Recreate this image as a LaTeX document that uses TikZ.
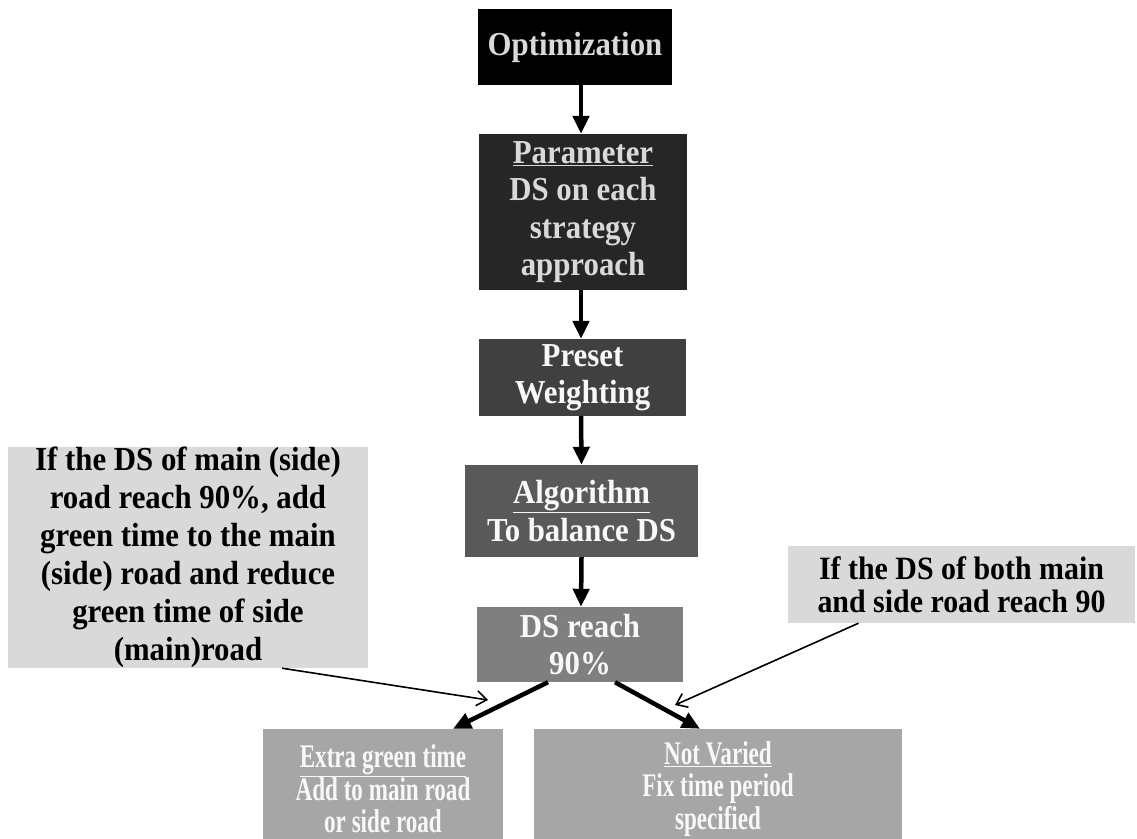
\documentclass[tikz,border=0pt]{standalone}
\usepackage{fontspec}
\setmainfont{Liberation Serif}[FakeStretch=0.92]
\newfontfamily\narrowserif[FakeStretch=0.70]{Liberation Serif}
\usetikzlibrary{arrows.meta}
\definecolor{stepA}{HTML}{000000}
\definecolor{stepB}{HTML}{262626}
\definecolor{stepC}{HTML}{404040}
\definecolor{stepD}{HTML}{595959}
\definecolor{stepE}{HTML}{7F7F7F}
\definecolor{stepF}{HTML}{A6A6A6}
\definecolor{notegray}{HTML}{D9D9D9}
\definecolor{paletext}{HTML}{D9D9D9}
\definecolor{whitetext}{HTML}{F8F8F8}
\begin{document}
\begin{tikzpicture}[x=1pt,y=-1pt,
  box/.style={rectangle, inner sep=0pt, align=center,
    font=\fontsize{33.5}{37.5}\selectfont\bfseries},
  darkbox/.style={box, text=paletext},
  lightbox/.style={box, text=whitetext},
  outbox/.style={rectangle, inner sep=0pt, align=center, fill=stepF, text=whitetext,
    font=\narrowserif\fontsize{33}{32.5}\selectfont\bfseries},
  note/.style={box, fill=notegray, text=black},
  flow/.style={-{Triangle[length=18pt,width=16pt]}, line width=4.5pt},
  hint/.style={-{Straight Barb[length=10pt,width=15pt]}, line width=1.6pt},
]
\useasboundingbox (0,0) rectangle (1137,838);
\clip (0,0) rectangle (1137,838);

% main chain
\node[darkbox, fill=stepA, minimum width=194pt, minimum height=76pt] (opt) at (575,47) {Optimization};
\node[darkbox, fill=stepB, minimum width=208pt, minimum height=156pt] (par) at (583,212)
  {\underline{Parameter}\\DS on each\\strategy\\approach};
\node[lightbox, fill=stepC, minimum width=207pt, minimum height=77pt] (pre) at (582.5,377.5)
  {Preset\\Weighting};
\node[lightbox, fill=stepD, minimum width=233pt, minimum height=92pt] (alg) at (581.5,511)
  {\underline{Algorithm}\\To balance DS};
\node[lightbox, fill=stepE, minimum width=206pt, minimum height=75pt] (ds) at (580,644.5)
  {DS reach\\90\%};

% outcomes
\node[outbox, minimum width=240pt, minimum height=120pt] (extra) at (383,789)
  {\underline{Extra green time}\\Add to main road\\or side road};
\node[outbox, minimum width=368pt, minimum height=120pt] (nv) at (718,789)
  {\underline{Not Varied}\\Fix time period\\specified};

% explanatory notes
\node[note, font=\fontsize{33.5}{38}\selectfont\bfseries, minimum width=360pt, minimum height=221pt] (lnote) at (188,557.5)
  {If the DS of main (side)\\road reach 90\%, add\\green time to the main\\(side) road and reduce\\green time of side\\(main)road};
\node[note, font=\fontsize{32.5}{33}\selectfont\bfseries, minimum width=347pt, minimum height=77pt] (rnote) at (961.5,584.5)
  {If the DS of both main\\and side road reach 90};

% connectors
\draw[flow] ([xshift=6pt]opt.south) -- ([xshift=-2pt]par.north);
\draw[flow] ([xshift=-2pt]par.south) -- ([xshift=-1.5pt]pre.north);
\draw[flow] ([xshift=-1.5pt]pre.south) -- (alg.north);
\draw[flow] (alg.south) -- ([xshift=1pt]ds.north);
\draw[flow] ([xshift=-32pt]ds.south) -- ([xshift=70pt]extra.north);
\draw[flow] ([xshift=35pt]ds.south) -- ([xshift=-18pt]nv.north);

\coordinate (ltip) at (488,700);
\coordinate (rtip) at (675,705);
\draw[hint] ([xshift=94pt]lnote.south) -- (ltip);
\draw[hint] ([xshift=-103pt]rnote.south) -- (rtip);
\end{tikzpicture}
\end{document}
